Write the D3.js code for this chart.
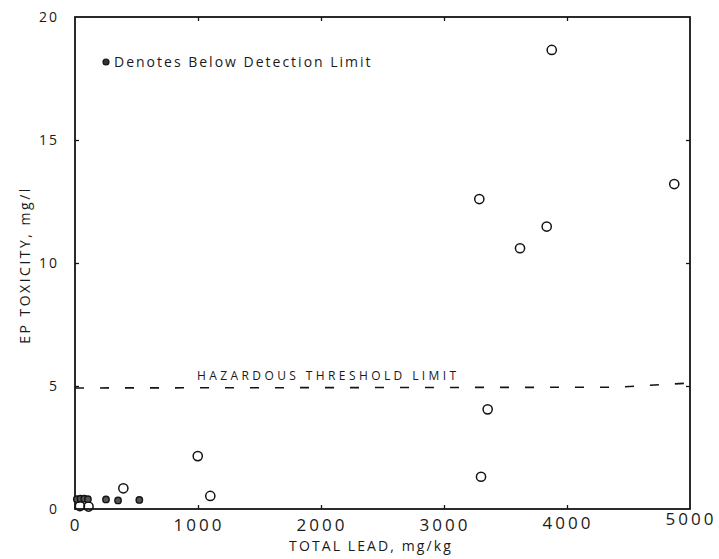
<!DOCTYPE html>
<html>
<head>
<meta charset="utf-8">
<script src="https://cdn.jsdelivr.net/npm/d3@7"></script>
<style>
  html, body { margin: 0; padding: 0; background: #fff; }
  svg { display: block; }
  text { font-family: "Open Sans", "DejaVu Sans", sans-serif; fill: #1a1a1a; }
</style>
</head>
<body>
<svg id="chart" width="719" height="559"></svg>
<script>
// ---- data ----
const xTicks = [0, 1000, 2000, 3000, 4000, 5000];
const xTickLabels = ["0", "1000", "2000", "3000", "4000", "5000"];
const yTicks = [0, 5, 10, 15, 20];
const yTickLabels = ["0", "5", "10", "15", "20"];

// measured (open circles)
const leadMeasured = [3876, 4872, 3287, 3835, 3618, 3355, 3301, 998, 1100, 393, 40, 110];
const epMeasured   = [18.66, 13.21, 12.6, 11.48, 10.6, 4.05, 1.31, 2.15, 0.53, 0.84, 0.12, 0.1];

// below detection limit (filled dots)
const leadBDL = [252, 350, 523, 15, 45, 75, 105];
const epBDL   = [0.39, 0.35, 0.37, 0.4, 0.42, 0.42, 0.4];

// hazardous threshold line
const thresholdX = [0, 4400, 5000];
const thresholdY = [4.92, 4.95, 5.12];

const xTitle = "TOTAL LEAD, mg/kg";
const yTitle = "EP TOXICITY, mg/l";
const thresholdLabel = "HAZARDOUS THRESHOLD LIMIT";
const legendLabel = "Denotes Below Detection Limit";

// ---- layout ----
const svg = d3.select("#chart");
const x = d3.scaleLinear().domain([0, 5000]).range([75, 690]);
const y = d3.scaleLinear().domain([0, 20]).range([509, 17]);
const ink = "#141414";

// frame
svg.append("rect")
  .attr("x", x(0)).attr("y", y(20))
  .attr("width", x(5000) - x(0)).attr("height", y(0) - y(20))
  .attr("fill", "none").attr("stroke", ink).attr("stroke-width", 1.8);

// inward ticks
const tickStyle = s => { s.select(".domain").remove(); s.selectAll("line").attr("stroke", ink).attr("stroke-width", 1.3); };
svg.append("g").attr("transform", `translate(0,${y(0)})`)
  .call(d3.axisBottom(x).tickValues(xTicks.slice(1, -1)).tickSize(-4).tickFormat("")).call(tickStyle);
svg.append("g").attr("transform", `translate(0,${y(20)})`)
  .call(d3.axisTop(x).tickValues(xTicks.slice(1, -1)).tickSize(-4).tickFormat("")).call(tickStyle);
svg.append("g").attr("transform", `translate(${x(0)},0)`)
  .call(d3.axisLeft(y).tickValues(yTicks.slice(1, -1)).tickSize(-4).tickFormat("")).call(tickStyle);
svg.append("g").attr("transform", `translate(${x(5000)},0)`)
  .call(d3.axisRight(y).tickValues(yTicks.slice(1, -1)).tickSize(-4).tickFormat("")).call(tickStyle);

// tick labels
svg.append("g").selectAll("text").data(xTicks).join("text")
  .attr("x", d => x(d) + 1)
  .attr("y", d => d === 5000 ? 525 : (d === 4000 ? 529 : 531))
  .attr("text-anchor", "middle")
  .attr("font-size", 17).attr("letter-spacing", 3)
  .text((d, i) => xTickLabels[i]);

svg.append("g").selectAll("text").data(yTicks).join("text")
  .attr("x", 59)
  .attr("y", d => y(d) + 5)
  .attr("text-anchor", "end")
  .attr("font-size", 14).attr("letter-spacing", 2)
  .text((d, i) => yTickLabels[i]);

// axis titles
svg.append("text")
  .attr("x", 371).attr("y", 551)
  .attr("text-anchor", "middle")
  .attr("font-size", 14).attr("letter-spacing", 2.1)
  .text(xTitle);

svg.append("text")
  .attr("transform", `translate(30,265) rotate(-90)`)
  .attr("text-anchor", "middle")
  .attr("font-size", 14).attr("letter-spacing", 2.5)
  .text(yTitle);

// threshold line
const thrData = thresholdX.map((d, i) => [d, thresholdY[i]]);
svg.append("path")
  .datum(thrData)
  .attr("d", d3.line().x(d => x(d[0])).y(d => y(d[1])))
  .attr("fill", "none").attr("stroke", ink).attr("stroke-width", 1.6)
  .attr("stroke-dasharray", "9,16");

svg.append("text")
  .attr("x", 197).attr("y", 380)
  .attr("font-size", 12).attr("letter-spacing", 3.4)
  .text(thresholdLabel);

// points
svg.append("g").selectAll("circle").data(leadMeasured).join("circle")
  .attr("cx", d => x(d))
  .attr("cy", (d, i) => y(epMeasured[i]))
  .attr("r", 4.6)
  .attr("fill", "none").attr("stroke", ink).attr("stroke-width", 1.5);

svg.append("g").selectAll("circle").data(leadBDL).join("circle")
  .attr("cx", d => x(d))
  .attr("cy", (d, i) => y(epBDL[i]))
  .attr("r", 3.2)
  .attr("fill", "#555").attr("stroke", ink).attr("stroke-width", 1.4);

// legend
svg.append("circle")
  .attr("cx", 106).attr("cy", 62).attr("r", 3)
  .attr("fill", "#333").attr("stroke", ink).attr("stroke-width", 1.2);
svg.append("text")
  .attr("x", 114).attr("y", 67)
  .attr("font-size", 14).attr("letter-spacing", 2)
  .text(legendLabel);
</script>
</body>
</html>
